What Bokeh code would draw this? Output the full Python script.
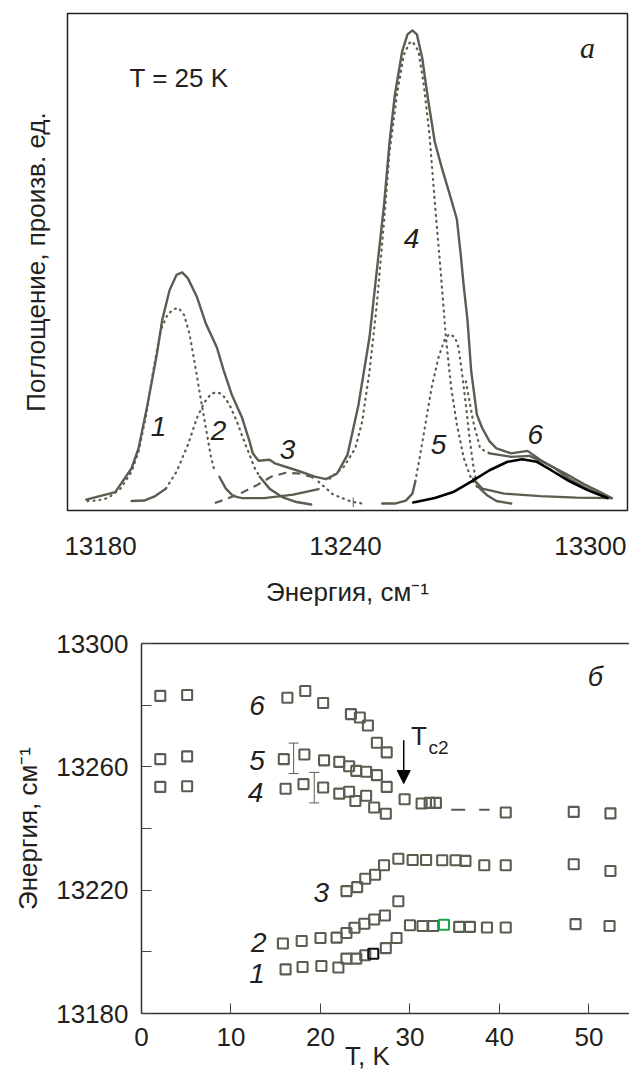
from bokeh.plotting import figure
from bokeh.models import (Range1d, FixedTicker, LinearAxis, Arrow, NormalHead,
                          Whisker, TeeHead, ColumnDataSource)
from bokeh.layouts import column
from bokeh.embed import file_html
from bokeh.resources import INLINE
from bokeh.core.properties import value

# ---------------- panel a: absorption spectrum at T = 25 K ----------------
x_ticks_top = [13180, 13240, 13300]

env_x = [13176.5, 13183.6, 13187.6, 13189.3, 13191.5, 13193.8, 13195.1, 13196.9, 13198.6, 13200.0,
         13201.4, 13203.6, 13205.8, 13208.5, 13210.2, 13212.1, 13214.7, 13216.5, 13217.3, 13218.7,
         13221.4, 13222.7, 13228.0, 13232.5, 13235.2, 13237.9, 13240.5, 13243.2, 13245.9, 13247.7,
         13249.5, 13250.8, 13252.1, 13253.9, 13255.2, 13256.4, 13257.5, 13258.8, 13260.2, 13261.9,
         13263.7, 13265.4, 13267.3, 13268.2, 13269.0, 13269.9, 13270.8, 13272.2, 13273.5, 13275.3,
         13277.0, 13280.6, 13284.6, 13287.7, 13291.3, 13294.8, 13298.4, 13301.9, 13305.2]
env_y = [2.2, 3.7, 8.5, 12.5, 21.3, 31.5, 38.3, 44.3, 47.4, 47.9,
         46.7, 43.0, 37.6, 32.8, 28.1, 23.4, 18.6, 13.9, 11.5, 10.0,
         10.2, 9.5, 8.1, 6.8, 6.3, 7.4, 11.2, 21.3, 34.9, 48.4,
         61.9, 74.1, 83.6, 92.4, 95.8, 96.6, 95.8, 91.1, 82.9, 74.1,
         68.7, 64.0, 58.6, 51.8, 45.0, 38.3, 28.1, 19.3, 16.6, 13.9,
         12.5, 11.5, 12.0, 10.2, 8.5, 6.4, 4.7, 3.4, 2.5]

fit_x = [13275.3, 13280.6, 13285.1, 13289.5, 13294.0, 13298.4, 13301.9, 13305.2]
fit_y = [11.5, 10.8, 11.0, 9.3, 7.4, 5.3, 3.9, 2.5]
fitdot_x = [13269.5, 13271.3, 13273.0, 13275.3]
fitdot_y = [26.0, 17.9, 12.5, 11.5]

c1_x = [13176.8, 13179.1, 13181.8, 13184.9, 13187.6, 13189.3, 13191.2, 13192.9, 13194.7, 13196.5,
        13198.3, 13199.1, 13200.5, 13201.8, 13203.1, 13204.5, 13205.8, 13207.1, 13208.0]
c1_y = [1.9, 2.0, 2.5, 4.4, 7.8, 11.8, 19.3, 28.1, 36.2, 39.6,
        40.6, 40.8, 39.3, 35.5, 29.5, 22.7, 16.6, 10.5, 7.8]
c1_tail_x = [13209.1, 13210.7, 13212.5, 13214.7, 13220.1, 13227.2, 13233.4]
c1_tail_y = [6.8, 4.4, 2.9, 2.5, 2.5, 3.2, 4.3]

c2_x = [13196.0, 13198.6, 13201.4, 13203.6, 13205.4, 13207.1, 13208.5, 13209.8, 13211.6, 13213.4,
        13215.2, 13216.5, 13217.8, 13219.0]
c2_y = [4.4, 7.8, 13.2, 18.6, 21.7, 23.5, 23.8, 23.4, 21.3, 17.9, 13.9, 11.2, 8.5, 6.8]
c2_ltail_x = [13187.6, 13190.7, 13193.4, 13196.0]
c2_ltail_y = [1.9, 2.0, 2.9, 4.4]
c2_rtail_x = [13219.0, 13221.4, 13224.5, 13228.0, 13231.6]
c2_rtail_y = [6.8, 4.4, 2.7, 1.7, 1.2]

c3_x = [13208.0, 13211.1, 13214.7, 13218.3, 13221.8, 13225.4, 13228.9, 13231.6, 13233.4]
c3_y = [1.5, 2.4, 3.6, 5.1, 6.8, 7.6, 7.4, 6.8, 5.8]
c3_tail_x = [13233.4, 13237.0, 13241.4, 13244.1]
c3_tail_y = [5.8, 3.2, 1.8, 1.4]
mark_x = [13241.9, 13241.9]
mark_y = [0.7, 2.6]

c4_x = [13236.1, 13239.6, 13242.4, 13244.1, 13245.9, 13247.7, 13249.5, 13250.8, 13252.6, 13254.3,
        13255.7, 13256.4, 13257.9, 13259.2, 13260.6, 13261.9, 13263.3, 13264.6, 13265.9, 13267.3,
        13269.0, 13270.8, 13272.6]
c4_y = [6.4, 8.8, 12.5, 17.9, 28.1, 41.6, 58.6, 72.1, 83.6, 91.7,
        94.1, 94.4, 92.4, 85.6, 75.5, 61.9, 48.4, 34.9, 24.7, 17.3,
        10.5, 6.4, 4.4]
c4_tail_x = [13272.6, 13274.8, 13277.0, 13280.6]
c4_tail_y = [4.7, 3.0, 1.9, 1.4]

c5_x = [13257.1, 13258.3, 13259.7, 13261.1, 13262.8, 13264.2, 13265.4, 13266.8, 13267.7, 13268.5,
        13269.5, 13270.4, 13271.3, 13272.2]
c5_y = [5.8, 11.2, 17.9, 24.7, 30.8, 34.2, 35.5, 34.9, 32.8, 28.1, 21.3, 14.6, 9.1, 5.1]
c5_ltail_x = [13249.0, 13252.1, 13254.8, 13256.4, 13257.1]
c5_ltail_y = [1.4, 1.4, 2.0, 3.4, 5.8]
c5_rtail_x = [13271.3, 13273.5, 13278.9, 13287.7, 13296.6, 13305.2]
c5_rtail_y = [6.4, 4.4, 3.4, 2.9, 2.6, 2.5]

c6_x = [13256.6, 13261.9, 13266.4, 13270.8, 13275.3, 13279.7, 13283.3, 13286.9, 13290.4, 13294.8,
        13299.3, 13304.2]
c6_y = [1.6, 2.5, 3.7, 5.8, 8.1, 9.8, 10.3, 9.8, 8.1, 5.9, 4.1, 2.5]

lab_top_x = [13194.2, 13208.9, 13225.8, 13256.2, 13262.8, 13286.5]
lab_top_y = [17.0, 16.0, 12.2, 54.8, 13.2, 15.2]
lab_top_t = ["1", "2", "3", "4", "5", "6"]

# ---------------- panel б: band energies vs temperature ----------------
T1 = [16.1, 18.0, 20.1, 22.0, 22.9, 24.0, 25.0, 25.9, 27.3, 28.5, 30.0, 31.4, 32.6, 33.8, 35.5,
      36.7, 38.6, 40.7, 48.5, 52.3]
E1 = [13194.3, 13195.1, 13195.4, 13194.9, 13197.8, 13197.8, 13198.9, 13199.4, 13201.2, 13204.5,
      13208.6, 13208.4, 13208.4, 13208.8, 13208.1, 13208.1, 13207.9, 13207.9, 13209.0, 13208.4]
T2 = [15.8, 17.9, 20.0, 21.8, 22.9, 23.8, 24.9, 26.0, 27.2, 28.7]
E2 = [13202.7, 13203.5, 13204.5, 13204.6, 13206.1, 13207.8, 13209.1, 13210.5, 13211.8, 13216.4]
T3 = [22.9, 24.1, 25.0, 26.1, 27.1, 28.7, 30.3, 31.8, 33.6, 35.1, 36.2, 38.3, 40.7, 48.3, 52.4]
E3 = [13219.7, 13221.0, 13223.7, 13225.0, 13228.1, 13230.2, 13229.8, 13229.8, 13229.7, 13229.7,
      13229.5, 13228.1, 13228.1, 13228.4, 13226.2]
T4 = [2.1, 5.1, 16.1, 18.1, 20.3, 22.1, 23.2, 23.9, 25.1, 26.0, 27.3, 29.4, 31.3, 32.2, 32.9,
      40.7, 48.3, 52.4]
E4 = [13253.5, 13253.7, 13252.9, 13254.4, 13253.3, 13251.3, 13251.9, 13248.9, 13250.6, 13246.8,
      13244.8, 13249.5, 13248.1, 13248.3, 13248.3, 13245.2, 13245.4, 13244.9]
T5 = [2.1, 5.1, 15.9, 18.2, 20.4, 22.1, 23.2, 24.0, 25.1, 26.3, 27.4]
E5 = [13262.5, 13263.4, 13262.5, 13264.0, 13262.1, 13261.6, 13260.2, 13258.7, 13258.4, 13257.3,
      13253.5]
T6 = [2.1, 5.1, 16.3, 18.3, 20.3, 23.4, 24.4, 25.3, 26.3, 27.4]
E6 = [13283.0, 13283.3, 13282.4, 13284.6, 13280.7, 13277.1, 13276.0, 13273.4, 13267.8, 13264.7]

dash_T = [34.6, 38.9]
dash_E = [13246.1, 13246.1]

err_T = [17.0, 19.3]
err_lo = [13257.8, 13248.3]
err_hi = [13267.7, 13258.2]

tc2_T = [29.3, 29.3]
tc2_E = [13268.6, 13254.6]

lab_bot_x = [12.9, 12.9, 12.75, 20.1, 13.1, 12.9]
lab_bot_y = [13280.0, 13262.2, 13251.8, 13219.3, 13203.1, 13193.1]
lab_bot_t = ["6", "5", "4", "3", "2", "1"]

y_ticks_bot = [13180, 13200, 13220, 13240, 13260, 13280, 13300]
x_ticks_bot = [0, 10, 20, 30, 40, 50]

GRAY = "#5c5c50"
INK = "#231f20"
SANS = "Liberation Sans"
FS = "26px"

# ---------------- figure a ----------------
p1 = figure(width=629, height=613, x_range=Range1d(13171.9, 13309.1), y_range=Range1d(0, 100),
            output_backend="svg", toolbar_location=None,
            min_border_left=67, min_border_right=2, min_border_top=13, min_border_bottom=103)
p1.frame_align = False
p1.outline_line_color = INK
p1.outline_line_width = 1.5
p1.xgrid.visible = False
p1.ygrid.visible = False
p1.xaxis.ticker = FixedTicker(ticks=x_ticks_top)
p1.xaxis.axis_line_color = None
p1.xaxis.major_tick_line_color = None
p1.xaxis.minor_tick_line_color = None
p1.xaxis.major_label_text_font = SANS
p1.xaxis.major_label_text_font_size = FS
p1.xaxis.major_label_text_color = INK
p1.xaxis.major_label_standoff = 20
p1.xaxis.axis_label = "Энергия, см⁻¹"
p1.xaxis.axis_label_text_font = SANS
p1.xaxis.axis_label_text_font_size = FS
p1.xaxis.axis_label_text_font_style = "normal"
p1.xaxis.axis_label_text_color = INK
p1.xaxis.axis_label_standoff = 19
p1.yaxis.ticker = FixedTicker(ticks=[])
p1.yaxis.axis_line_color = None
p1.yaxis.major_tick_line_color = None
p1.yaxis.minor_tick_line_color = None
p1.yaxis.axis_label = "Поглощение, произв. ед."
p1.yaxis.axis_label_text_font = SANS
p1.yaxis.axis_label_text_font_size = FS
p1.yaxis.axis_label_text_font_style = "normal"
p1.yaxis.axis_label_text_color = INK
p1.yaxis.axis_label_standoff = 17

solid = dict(line_color=GRAY, line_width=2.4, line_cap="round", line_join="round")
dotted = dict(line_color=GRAY, line_width=2.2, line_dash="1 5", line_cap="round")

p1.line(env_x, env_y, **solid)
p1.line(fit_x, fit_y, **solid)
p1.line(fitdot_x, fitdot_y, **dotted)
p1.line(c1_x, c1_y, **dotted)
p1.line(c1_tail_x, c1_tail_y, **solid)
p1.line(c2_x, c2_y, **dotted)
p1.line(c2_ltail_x, c2_ltail_y, **solid)
p1.line(c2_rtail_x, c2_rtail_y, **solid)
p1.line(c3_x, c3_y, line_color=GRAY, line_width=2.2, line_dash="8 6")
p1.line(c3_tail_x, c3_tail_y, **dotted)
p1.line(mark_x, mark_y, line_color=GRAY, line_width=1)
p1.line(c4_x, c4_y, **dotted)
p1.line(c4_tail_x, c4_tail_y, **solid)
p1.line(c5_x, c5_y, **dotted)
p1.line(c5_ltail_x, c5_ltail_y, **solid)
p1.line(c5_rtail_x, c5_rtail_y, **solid)
p1.line(c6_x, c6_y, line_color="black", line_width=2.6, line_cap="round")

p1.text(x=lab_top_x, y=lab_top_y, text=lab_top_t, text_font=value(SANS), text_font_style="italic",
        text_font_size="28px", text_color=INK, text_align="center", text_baseline="middle")
p1.text(x=[13187.1], y=[87.0], text=["T = 25 K"], text_font=value(SANS), text_font_size=FS,
        text_color=INK, text_align="left", text_baseline="middle")
p1.text(x=[13299.3], y=[93.1], text=["a"], text_font=value("Liberation Serif"),
        text_font_style="italic", text_font_size="30px", text_color=INK,
        text_align="center", text_baseline="middle")

# ---------------- figure б ----------------
p2 = figure(width=629, height=462, x_range=Range1d(0, 54.53), y_range=Range1d(13180, 13300),
            output_backend="svg", toolbar_location=None,
            min_border_left=141, min_border_right=0, min_border_top=30, min_border_bottom=62)
p2.frame_align = False
p2.outline_line_color = None
p2.xgrid.visible = False
p2.ygrid.visible = False
for ax in (p2.xaxis[0], p2.yaxis[0]):
    ax.axis_line_color = "#333333"
    ax.axis_line_width = 1.5
    ax.major_tick_in = 10
    ax.major_tick_out = 0
    ax.major_tick_line_color = "#444444"
    ax.major_tick_line_width = 1
    ax.minor_tick_line_color = None
    ax.major_label_text_font = SANS
    ax.major_label_text_font_size = FS
    ax.major_label_text_color = INK
p2.xaxis.ticker = FixedTicker(ticks=x_ticks_bot)
p2.xaxis.major_label_standoff = 14
p2.xaxis.axis_label = "T, K" + "\u00a0" * 5
p2.xaxis.axis_label_text_font = SANS
p2.xaxis.axis_label_text_font_size = FS
p2.xaxis.axis_label_text_font_style = "normal"
p2.xaxis.axis_label_text_color = INK
p2.xaxis.axis_label_standoff = -8
p2.yaxis.ticker = FixedTicker(ticks=y_ticks_bot)
p2.yaxis.major_label_overrides = {13200: "", 13240: "", 13280: ""}
p2.yaxis.major_label_standoff = 13
p2.yaxis.axis_label = "Энергия, см⁻¹"
p2.yaxis.axis_label_text_font = SANS
p2.yaxis.axis_label_text_font_size = FS
p2.yaxis.axis_label_text_font_style = "normal"
p2.yaxis.axis_label_text_color = INK
p2.yaxis.axis_label_standoff = 10

top_axis = LinearAxis(ticker=FixedTicker(ticks=[]), axis_line_color="#333333", axis_line_width=1.5,
                      major_tick_line_color=None, minor_tick_line_color=None,
                      major_label_text_font_size="0px")
p2.add_layout(top_axis, "above")

sq = dict(marker="square", size=10, fill_color=None, line_width=2.1)
c1 = [GRAY] * len(T1)
c1[7] = "#111111"
c1[13] = "#1aa550"
src1 = ColumnDataSource(dict(x=T1, y=E1, c=c1))
p2.scatter("x", "y", source=src1, line_color="c", **sq)
p2.scatter(T2, E2, line_color=GRAY, **sq)
p2.scatter(T3, E3, line_color=GRAY, **sq)
p2.scatter(T4, E4, line_color=GRAY, **sq)
p2.scatter(T5, E5, line_color=GRAY, **sq)
p2.scatter(T6, E6, line_color=GRAY, **sq)
p2.line(dash_T, dash_E, line_color=GRAY, line_width=2, line_dash="14 14")

err_src = ColumnDataSource(dict(base=err_T, lower=err_lo, upper=err_hi))
p2.add_layout(Whisker(source=err_src, base="base", lower="lower", upper="upper", dimension="height",
                      line_color=GRAY, line_width=1,
                      upper_head=TeeHead(size=10, line_color=GRAY, line_width=1),
                      lower_head=TeeHead(size=10, line_color=GRAY, line_width=1)))

p2.add_layout(Arrow(end=NormalHead(size=13, fill_color="black", line_color="black"),
                    x_start=tc2_T[0], y_start=tc2_E[0], x_end=tc2_T[1], y_end=tc2_E[1],
                    line_color="black", line_width=1.5))
p2.text(x=[31.0], y=[13269.9], text=["T"], text_font=value(SANS), text_font_size=FS,
        text_color=INK, text_align="center", text_baseline="middle")
p2.text(x=[33.2], y=[13266.4], text=["c2"], text_font=value(SANS), text_font_size="19px",
        text_color=INK, text_align="center", text_baseline="middle")

p2.text(x=lab_bot_x, y=lab_bot_y, text=lab_bot_t, text_font=value(SANS), text_font_style="italic",
        text_font_size="28px", text_color=INK, text_align="center", text_baseline="middle")
p2.text(x=[50.7], y=[13289.2], text=["б"], text_font=value(SANS), text_font_style="italic",
        text_font_size="27px", text_color=INK, text_align="center", text_baseline="middle")

layout = column(p1, p2, spacing=0)
open("out.html", "w").write(file_html(layout, INLINE))
